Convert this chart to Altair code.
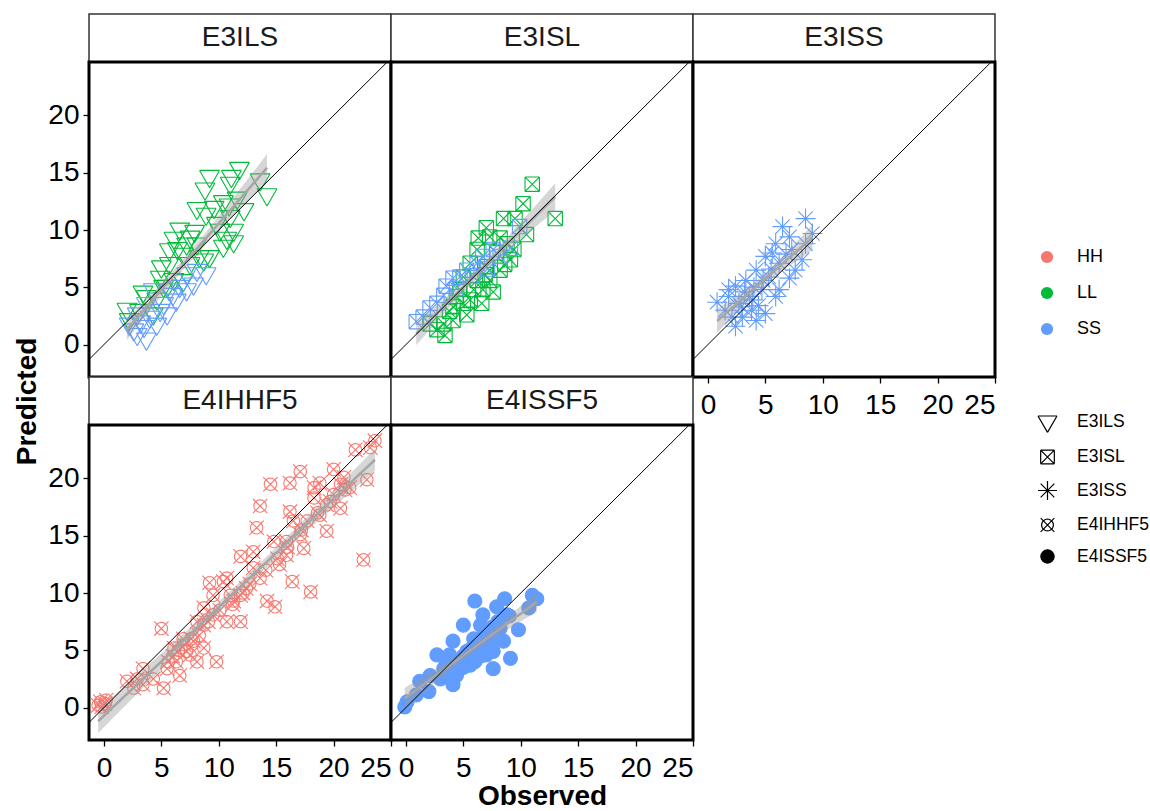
import numpy as np
import pandas as pd
import altair as alt

FONT = "Liberation Sans"

PANELS = ["E3ILS", "E3ISL", "E3ISS", "E4IHHF5", "E4ISSF5"]
GROUPS = ["HH", "LL", "SS"]
GROUP_COLORS = ["#F8766D", "#00BA38", "#619CFF"]

X_DOMAIN = [-1.3, 25.0]
Y_DOMAIN = [-2.83, 24.67]
X_TICKS = [0, 5, 10, 15, 20, 25]
Y_TICKS = [0, 5, 10, 15, 20]
ONE_TO_ONE = [-5, 30]

# ---- observed / predicted values, one pair of lists per panel and group ----
e3ils_ll_obs = [11.8, 9.2, 11.1, 13.6, 8.8, 11.0, 14.2, 8.1, 10.4, 11.6, 12.2, 8.9, 6.6, 7.5,
                10.1, 11.3, 10.7, 6.1, 8.1, 11.3, 10.4, 5.7, 6.9, 8.3, 9.2, 5.7, 7.5, 8.7,
                4.9, 6.1, 6.9, 5.2, 3.7, 4.6, 2.0, 3.1, 4.3, 2.2, 5.5, 7.2, 11.0, 9.8,
                9.6, 10.9, 7.9, 6.4, 5.0, 3.4]
e3ils_ll_pred = [15.4, 14.7, 14.7, 14.4, 13.6, 14.1, 13.1, 11.9, 12.5, 12.8, 11.8, 11.4, 10.1, 9.4,
                 10.0, 10.0, 9.3, 9.3, 8.8, 9.0, 8.6, 8.3, 7.9, 7.7, 7.7, 7.1, 7.1, 7.4,
                 5.9, 5.7, 5.6, 5.1, 4.2, 4.0, 3.1, 3.0, 2.7, 2.2, 5.1, 8.8, 11.2, 10.6,
                 12.0, 12.2, 9.9, 8.4, 6.8, 4.6]
e3ils_ss_obs = [8.9, 8.1, 7.2, 6.6, 5.7, 7.2, 4.3, 5.2, 3.7, 2.9, 4.0, 3.5, 2.6, 3.7,
                2.9, 6.3, 5.5, 4.6, 7.8, 2.2, 4.9, 3.2, 6.0]
e3ils_ss_pred = [6.2, 6.5, 6.2, 5.1, 4.8, 4.8, 4.8, 3.6, 3.6, 2.7, 2.4, 1.6, 1.3, 0.5,
                 0.9, 3.9, 2.7, 1.8, 5.3, 1.8, 3.0, 2.0, 4.4]

e3isl_ll_obs = [11.0, 10.2, 13.0, 8.5, 9.5, 10.5, 7.0, 6.3, 8.2, 7.3, 6.2, 7.9, 9.1, 5.6,
                7.0, 8.2, 5.0, 6.2, 7.6, 6.7, 4.7, 6.6, 5.6, 4.1, 5.3, 4.1, 3.3, 3.4,
                2.1, 2.7, 8.8, 9.4, 5.9, 5.0, 7.3, 4.4, 3.8, 6.9, 8.6]
e3isl_ll_pred = [14.0, 12.3, 11.0, 11.0, 11.0, 9.6, 10.2, 9.3, 9.3, 9.4, 8.3, 8.0, 7.4, 7.1,
                 6.8, 6.5, 5.9, 5.6, 4.6, 4.8, 4.8, 3.6, 3.9, 3.3, 2.6, 2.1, 1.8, 0.8,
                 1.8, 1.3, 8.8, 8.3, 4.8, 3.6, 5.6, 4.2, 2.9, 6.1, 7.0]
e3isl_ss_obs = [0.9, 2.1, 3.3, 4.1, 5.3, 6.7, 7.6, 9.1, 9.9, 1.5, 3.5, 6.2, 2.7, 4.7, 8.2,
                5.8, 7.1, 4.4]
e3isl_ss_pred = [2.0, 3.2, 4.3, 5.8, 6.5, 7.7, 8.3, 8.4, 10.3, 2.4, 5.1, 7.1, 3.6, 5.9, 7.7,
                 6.0, 6.6, 4.9]

e3iss_ss_obs = [8.5, 6.5, 9.1, 7.1, 5.9, 8.5, 7.3, 5.0, 6.2, 7.6, 7.1, 4.2, 3.3, 5.3,
                5.9, 4.7, 2.4, 0.8, 1.8, 2.7, 3.9, 1.5, 3.0, 2.4, 4.2, 5.0, 4.4, 6.2,
                8.2, 5.6, 3.6, 1.8, 2.1, 3.2, 4.0, 4.8, 5.5, 6.8, 2.9, 3.8]
e3iss_ss_pred = [11.0, 10.3, 9.7, 9.4, 8.8, 8.8, 8.3, 7.7, 7.1, 6.5, 5.8, 6.5, 5.6, 5.9,
                 4.2, 4.8, 5.1, 3.7, 4.2, 3.6, 3.9, 3.0, 2.4, 1.6, 2.1, 2.7, 3.4, 4.8,
                 7.4, 8.0, 4.2, 4.8, 2.4, 4.6, 5.0, 5.6, 6.6, 7.9, 3.3, 3.0]

e4ihhf5_hh_obs = [23.6, 21.9, 22.9, 22.6, 17.1, 20.0, 14.5, 16.2, 18.8, 20.9, 13.6, 16.2, 13.3, 18.3,
                  19.4, 17.7, 17.1, 20.0, 20.6, 18.8, 11.9, 13.0, 15.9, 14.8, 15.3, 16.4, 18.0, 13.6,
                  14.2, 14.9, 12.4, 9.2, 10.4, 11.3, 9.5, 10.7, 11.9, 8.7, 5.0, 7.8, 7.2, 8.7,
                  9.8, 6.3, 5.5, 5.2, 6.6, 3.4, 2.6, 2.0, 4.3, -0.3, 0.1, -0.2, 0.2, -0.5,
                  19.4, 20.6, 17.4, 15.9, 10.7, 11.0, 8.7, 8.1, 6.9, 6.1, 13.0, 11.9, 9.5, 18.3,
                  23.2, 21.4, 16.5, 8.1, 7.5, 2.9, 3.4,
                  7.0, 7.6, 8.3, 6.5, 9.1, 10.1, 11.2, 12.1, 12.7, 14.1, 15.1, 16.0, 17.2, 18.6,
                  19.7, 21.0, 6.0, 5.6]
e4ihhf5_hh_pred = [23.3, 22.5, 19.9, 12.9, 20.6, 20.8, 19.5, 19.6, 19.6, 20.1, 17.6, 17.1, 15.7, 18.3,
                   17.7, 16.3, 15.1, 18.6, 19.5, 16.8, 13.2, 13.6, 13.3, 14.5, 12.5, 11.0, 10.1, 11.3,
                   9.3, 8.8, 10.4, 10.9, 11.0, 9.3, 8.1, 7.5, 7.5, 7.2, 6.9, 5.8, 4.9, 5.2,
                   4.0, 4.0, 3.4, 1.7, 2.8, 3.4, 1.7, 2.3, 2.5, 0.5, 0.35, 0.06, 0.65, 0.2,
                   15.4, 17.4, 13.9, 14.5, 11.3, 9.8, 8.7, 7.5, 6.0, 5.2, 12.2, 9.8, 9.8, 19.2,
                   22.7, 19.2, 16.3, 4.0, 4.6, 2.5, 2.0,
                   5.5, 6.0, 6.3, 5.0, 7.5, 8.5, 9.0, 10.0, 10.8, 12.0, 13.0, 14.0, 15.5, 17.0,
                   18.0, 19.0, 4.5, 4.0]

e4issf5_ss_obs = [6.0, 8.6, 11.0, 11.4, 10.7, 7.9, 9.8, 9.1, 6.7, 5.0, 8.2, 7.0, 4.1, 5.9,
                  8.5, 2.7, 3.8, 5.3, 7.0, 7.6, 5.6, 4.1, 4.4, 2.1, 1.2, 2.0, 0.1, -0.1,
                  0.9, 3.3, 6.5, 7.6, 8.8, 5.0, 6.3, 3.5,
                  4.5, 5.0, 5.5, 6.0, 6.5, 7.0, 7.5, 6.0, 7.0, 8.0, 5.0, 3.0, 3.5, 4.0,
                  8.0, 9.0, 7.5, 6.5]
e4issf5_ss_pred = [9.3, 9.5, 9.8, 9.5, 8.7, 8.8, 6.8, 4.3, 8.1, 7.2, 6.9, 6.3, 5.8, 6.0,
                   5.8, 4.6, 4.6, 4.9, 4.6, 3.4, 3.7, 2.0, 2.8, 2.8, 2.3, 1.4, 0.5, 0.06,
                   1.1, 3.4, 7.2, 4.9, 8.1, 4.0, 5.5, 4.0,
                   4.0, 4.5, 5.0, 5.5, 6.0, 6.5, 7.0, 4.0, 5.0, 6.0, 3.5, 2.5, 3.0, 3.2,
                   7.5, 8.0, 5.5, 4.5]

SERIES = [
    ("E3ILS", "LL", e3ils_ll_obs, e3ils_ll_pred),
    ("E3ILS", "SS", e3ils_ss_obs, e3ils_ss_pred),
    ("E3ISL", "LL", e3isl_ll_obs, e3isl_ll_pred),
    ("E3ISL", "SS", e3isl_ss_obs, e3isl_ss_pred),
    ("E3ISS", "SS", e3iss_ss_obs, e3iss_ss_pred),
    ("E4IHHF5", "HH", e4ihhf5_hh_obs, e4ihhf5_hh_pred),
    ("E4ISSF5", "SS", e4issf5_ss_obs, e4issf5_ss_pred),
]

points = pd.concat(
    [pd.DataFrame({"panel": p, "group": g, "observed": o, "predicted": v})
     for p, g, o, v in SERIES],
    ignore_index=True,
)
points["dataset"] = points["panel"]


# ---- linear fit with 95% confidence band for each panel ----
def linear_fit(df, n=80, t=1.98):
    x = df["observed"].to_numpy(float)
    y = df["predicted"].to_numpy(float)
    slope, intercept = np.polyfit(x, y, 1)
    resid = y - (intercept + slope * x)
    s = np.sqrt((resid ** 2).sum() / (len(x) - 2))
    gx = np.linspace(x.min(), x.max(), n)
    se = s * np.sqrt(1 / len(x) + (gx - x.mean()) ** 2 / ((x - x.mean()) ** 2).sum())
    fy = intercept + slope * gx
    return pd.DataFrame({"observed": gx, "predicted": fy,
                         "lower": fy - t * se, "upper": fy + t * se})


fits = {p: linear_fit(points[points.panel == p]) for p in PANELS}
identity = pd.DataFrame({"observed": ONE_TO_ONE, "predicted": ONE_TO_ONE})


# ---- glyphs: outline shapes are built from single-segment sub-paths (no fillable area) ----
def segments(pairs):
    return " ".join(f"M{a[0]:.3f},{a[1]:.3f}L{b[0]:.3f},{b[1]:.3f}" for a, b in pairs)


def ring(pts):
    return list(zip(pts, pts[1:] + pts[:1]))


tri = [(-1.0, -0.58), (1.0, -0.58), (0.0, 1.15)]
sq = [(-0.72, -0.72), (0.72, -0.72), (0.72, 0.72), (-0.72, 0.72)]
circ = [(0.62 * np.cos(a), 0.62 * np.sin(a)) for a in np.linspace(0, 2 * np.pi, 28, endpoint=False)]
diag = [((-0.72, -0.72), (0.72, 0.72)), ((-0.72, 0.72), (0.72, -0.72))]
SHAPE_TRIANGLE_DOWN = segments(ring(tri))
SHAPE_SQUARE_CROSS = segments(ring(sq) + diag)
SHAPE_ASTERISK = segments([((-1, 0), (1, 0)), ((0, -1), (0, 1))] + diag)
SHAPE_CIRCLE_CROSS = segments(ring(circ) + diag)
SHAPE_DOT = "M0.7,0A0.7,0.7,0,1,1,-0.7,0A0.7,0.7,0,1,1,0.7,0Z"
SHAPES = [SHAPE_TRIANGLE_DOWN, SHAPE_SQUARE_CROSS, SHAPE_ASTERISK, SHAPE_CIRCLE_CROSS, SHAPE_DOT]

color_scale = alt.Scale(domain=GROUPS, range=GROUP_COLORS)
shape_scale = alt.Scale(domain=PANELS, range=SHAPES)

fill_legend = alt.Legend(title=None, orient="none", legendX=949, legendY=234, direction="vertical",
                         symbolType="circle", symbolSize=150, symbolStrokeWidth=0,
                         labelFont=FONT, labelFontSize=18, labelColor="black",
                         labelOffset=21, rowPadding=18)
shape_legend = alt.Legend(title=None, orient="none", legendX=948, legendY=397, direction="vertical",
                          symbolSize=360, symbolFillColor="black", symbolStrokeColor="black",
                          symbolStrokeWidth=1.2, labelFont=FONT, labelFontSize=17.5,
                          labelColor="black", labelOffset=19, rowPadding=11.5)

W, SH, PH = 302, 48, 315
AXIS_STYLE = dict(grid=False, domain=False, ticks=True, tickSize=6, tickWidth=1.3, tickColor="black",
                  labelFont=FONT, labelFontSize=28, labelColor="black",
                  titleFont=FONT, titleFontSize=28, titleFontWeight="bold", titleColor="black")


def x_axis(show, title=None):
    if not show:
        return None
    return alt.Axis(values=X_TICKS, title=title, labelPadding=8, titlePadding=0, **AXIS_STYLE)


def y_axis(show, title=None):
    if not show:
        return None
    extra = {"titleY": 339} if title else {}
    return alt.Axis(values=Y_TICKS, title=title, labelPadding=4, titlePadding=6, **extra, **AXIS_STYLE)


def strip(name):
    return (
        alt.Chart(pd.DataFrame({"panel": [name]}))
        .mark_text(font=FONT, fontSize=28, color="#1A1A1A")
        .encode(text="panel:N")
        .properties(width=W, height=SH,
                    view=alt.ViewBackground(fill="white", stroke="#333333", strokeWidth=1.5))
    )


def blank():
    return (
        alt.Chart(pd.DataFrame({"panel": [""]}))
        .mark_text()
        .encode(text="panel:N")
        .properties(width=W, height=SH, view=alt.ViewBackground(strokeWidth=0))
    )


def panel(name, xa, ya):
    xs = alt.Scale(domain=X_DOMAIN, nice=False, zero=False)
    ys = alt.Scale(domain=Y_DOMAIN, nice=False, zero=False)
    x = alt.X("observed:Q", scale=xs, axis=xa)
    y = alt.Y("predicted:Q", scale=ys, axis=ya)

    pts = (
        alt.Chart(points[points.panel == name])
        .mark_point(filled=True, size=400, strokeWidth=1.1, opacity=1, clip=True)
        .encode(
            x=x, y=y,
            fill=alt.Fill("group:N", scale=color_scale, legend=fill_legend),
            stroke=alt.Stroke("group:N", scale=color_scale, legend=None),
            shape=alt.Shape("dataset:N", scale=shape_scale, legend=shape_legend),
        )
    )
    fit = fits[name]
    band = (
        alt.Chart(fit).mark_area(color="#999999", opacity=0.4, clip=True)
        .encode(x=x, y=alt.Y("lower:Q", scale=ys, axis=ya), y2="upper:Q")
    )
    line = alt.Chart(fit).mark_line(color="#A6A6A6", strokeWidth=2.5, clip=True).encode(x=x, y=y)
    one = alt.Chart(identity).mark_line(color="black", strokeWidth=1, clip=True).encode(x=x, y=y)
    return alt.layer(pts, band, line, one).properties(
        width=W, height=PH, view=alt.ViewBackground(fill="white", stroke="black", strokeWidth=3)
    )


cells = [
    strip("E3ILS"), strip("E3ISL"), strip("E3ISS"),
    panel("E3ILS", x_axis(False), y_axis(True, "Predicted")),
    panel("E3ISL", x_axis(False), y_axis(False)),
    panel("E3ISS", x_axis(True), y_axis(False)),
    strip("E4IHHF5"), strip("E4ISSF5"), blank(),
    panel("E4IHHF5", x_axis(True), y_axis(True)),
    panel("E4ISSF5", x_axis(True, "Observed"), y_axis(False)),
]

chart = (
    alt.concat(*cells, columns=3, spacing=0, bounds="flush")
    .properties(padding={"left": 12, "top": 13, "right": 0, "bottom": 0}, background="white")
    .configure_scale(continuousPadding=0)
)

chart.save("out.html", embed_options={"renderer": "svg", "actions": False})
